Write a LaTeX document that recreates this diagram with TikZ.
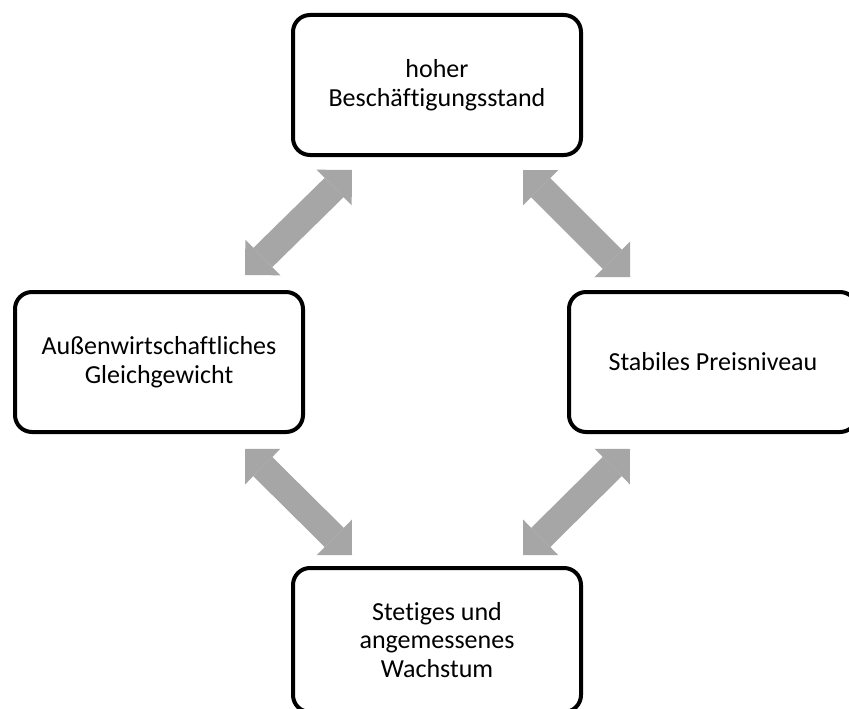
\documentclass[tikz,border=0pt]{standalone}
\usepackage{fontspec}
\setmainfont{Carlito}[Ligatures={NoCommon,NoContextual}]
\usetikzlibrary{arrows.meta}
\definecolor{arrowgray}{HTML}{A6A6A6}
\tikzset{
  goalbox/.style={draw=black, line width=4pt, rounded corners=17pt,
    minimum width=288pt, minimum height=140pt, align=center, inner sep=0pt,
    font=\fontsize{26}{28.5}\selectfont},
  blockarrow/.style={draw=arrowgray, line width=27pt,
    {Triangle[width=50pt,length=25pt,line width=0pt]}-{Triangle[width=50pt,length=25pt,line width=0pt]}}
}
\begin{document}
\begin{tikzpicture}[x=1pt,y=-1pt]
\useasboundingbox (0,0) rectangle (849,709);
\clip (0,0) rectangle (849,709);
\fill[white] (0,0) rectangle (849,709);
% boxes
\node[goalbox] (top) at (437,85) {hoher\\Beschäftigungsstand};
\node[goalbox] (left) at (159,362) {Außenwirtschaftliches\\Gleichgewicht};
\node[goalbox] (right) at (713,362) {Stabiles Preisniveau};
\node[goalbox, minimum height=144pt] (bottom) at (437,640) {Stetiges und\\angemessenes\\Wachstum};
% arrow ends
\coordinate (tlA) at (245,275);
\coordinate (tlB) at (352,170);
\coordinate (trA) at (523,170);
\coordinate (trB) at (630,277);
\coordinate (blA) at (245,449);
\coordinate (blB) at (352,555);
\coordinate (brA) at (523,555);
\coordinate (brB) at (630,449);
% arrows
\draw[blockarrow] (tlA) -- (tlB);
\draw[blockarrow] (trA) -- (trB);
\draw[blockarrow] (blA) -- (blB);
\draw[blockarrow] (brA) -- (brB);
\end{tikzpicture}
\end{document}
